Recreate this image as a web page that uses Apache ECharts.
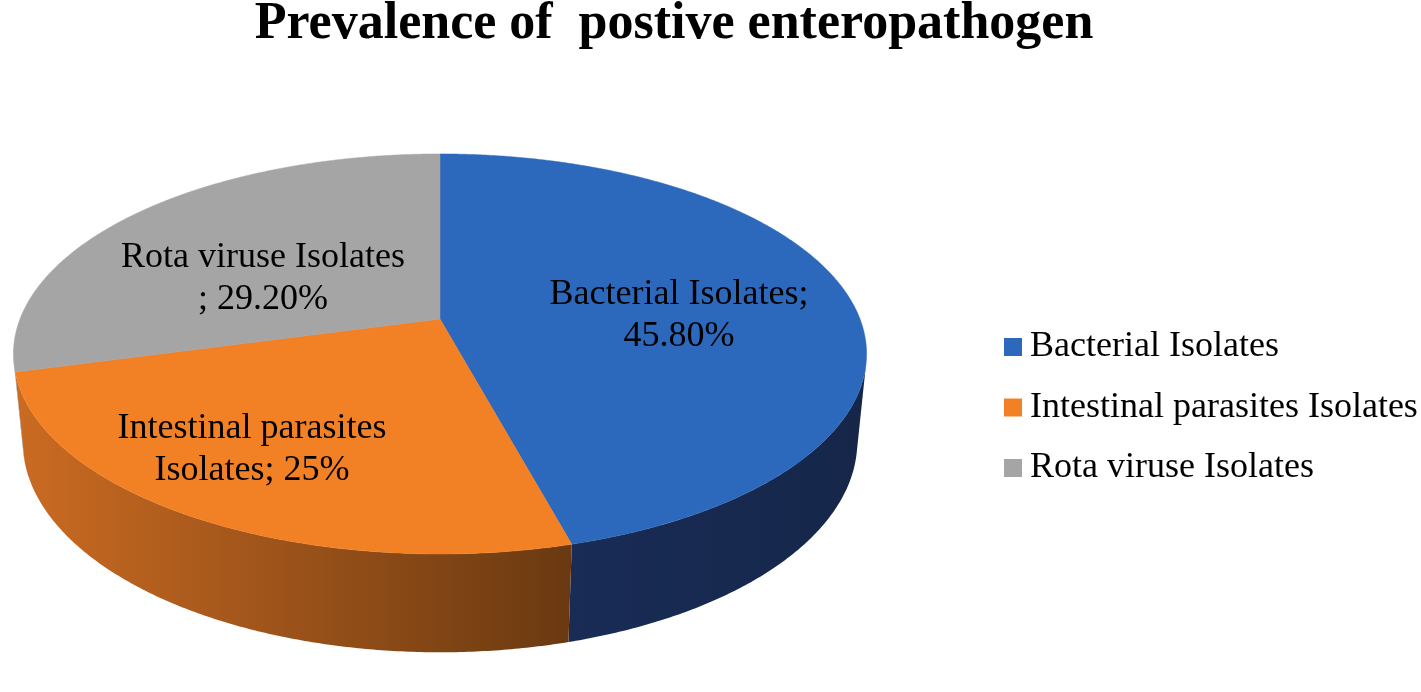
<!DOCTYPE html>
<html>
<head>
<meta charset="utf-8">
<script src="https://cdn.jsdelivr.net/npm/echarts@6/dist/echarts.min.js"></script>
<style>
  html, body { margin: 0; padding: 0; background: #fff; }
  #chart { width: 1421px; height: 692px; }
</style>
</head>
<body>
<div id="chart"></div>
<script>
// data
const categories = ["Bacterial Isolates", "Intestinal parasites Isolates", "Rota viruse Isolates"];
const shares = [45.8, 25, 29.2];
const labelText = ["Bacterial Isolates;\n45.80%", "Intestinal parasites\nIsolates; 25%", "Rota viruse Isolates\n; 29.20%"];

// look
const topColors = ["#2c68bb", "#f28025", "#a5a5a5"];
const sideColors = [["#192c56", "#152649"], ["#cb6b22", "#6a3911"], ["#8e8e8e", "#7a7a7a"]];
const labelAt = [[679, 316], [252, 450], [263, 279]];
const serif = '"Liberation Serif", "Times New Roman", serif';

// 3d pie camera (perspective, tilted)
const cx = 440, cy = 319, F = 2132;
const r = 0.197, depth = 0.0467;
const tilt = Math.asin(0.4617), sa = Math.sin(tilt), ca = Math.cos(tilt);

function project(theta, yy) {
  let X = r * Math.sin(theta), Z = -r * Math.cos(theta);
  let dist = 1 - Z * ca - yy * sa;
  return [cx + F * X / dist, cy - F * (yy * ca - Z * sa) / dist];
}

function rim(a, b, yy) {
  let pts = [], n = Math.max(2, Math.ceil((b - a) / 0.008));
  for (let i = 0; i <= n; i++) pts.push(project(a + (b - a) * i / n, yy));
  return pts;
}

const total = shares.reduce((s, v) => s + v, 0);
// wall faces the camera where cos(theta) < -r/cos(tilt)
const wallFrom = Math.acos(-r / ca), wallTo = 2 * Math.PI - wallFrom;

function renderSlice(params, api) {
  let i = params.dataIndex, before = 0;
  for (let k = 0; k < i; k++) before += shares[k];
  let a = before / total * 2 * Math.PI,
    b = (before + api.value(0)) / total * 2 * Math.PI,
    children = [];

  let wa = Math.max(a, wallFrom), wb = Math.min(b, wallTo);
  if (wb > wa) {
    let pts = rim(wa, wb, 0).concat(rim(wa, wb, -depth).reverse());
    children.push({
      type: "polygon",
      shape: { points: pts },
      style: {
        fill: {
          type: "linear", x: 0, y: 0, x2: 1, y2: 0,
          colorStops: [
            { offset: 0, color: sideColors[i][0] },
            { offset: 1, color: sideColors[i][1] }
          ]
        }
      }
    });
  }
  children.push({
    type: "polygon",
    shape: { points: [[cx, cy]].concat(rim(a, b, 0)) },
    style: { fill: topColors[i], stroke: topColors[i], lineWidth: 0.5 }
  });
  children.push({
    type: "text",
    z2: 10,
    x: labelAt[i][0],
    y: labelAt[i][1],
    style: {
      text: labelText[i],
      fontFamily: serif,
      fontSize: 36,
      lineHeight: 42,
      fill: "#000",
      align: "center",
      verticalAlign: "middle"
    }
  });
  return { type: "group", children: children };
}

let legendItems = [];
categories.forEach(function (name, i) {
  let y = 347 + i * 60.5;
  legendItems.push({
    type: "rect",
    shape: { x: 1004, y: y - 9, width: 18, height: 18 },
    style: { fill: topColors[i] }
  });
  legendItems.push({
    type: "text",
    x: 1030,
    y: y,
    style: {
      text: name,
      fontFamily: serif,
      fontSize: 36,
      fill: "#000",
      align: "left",
      verticalAlign: "middle"
    }
  });
});

let myChart = echarts.init(document.getElementById("chart"));
let option = {
  animation: false,
  backgroundColor: "#fff",
  graphic: [
    {
      type: "text",
      x: 674,
      y: 25,
      style: {
        text: "Prevalence of  postive enteropathogen",
        fontFamily: serif,
        fontWeight: "bold",
        fontSize: 52,
        fill: "#000",
        align: "center",
        verticalAlign: "middle"
      }
    }
  ].concat(legendItems),
  series: [
    {
      type: "custom",
      coordinateSystem: "none",
      data: shares.map(function (v, i) {
        return { name: categories[i], value: v };
      }),
      renderItem: renderSlice
    }
  ]
};
myChart.setOption(option);
window.addEventListener("resize", function () {
  myChart.resize();
});
</script>
</body>
</html>
